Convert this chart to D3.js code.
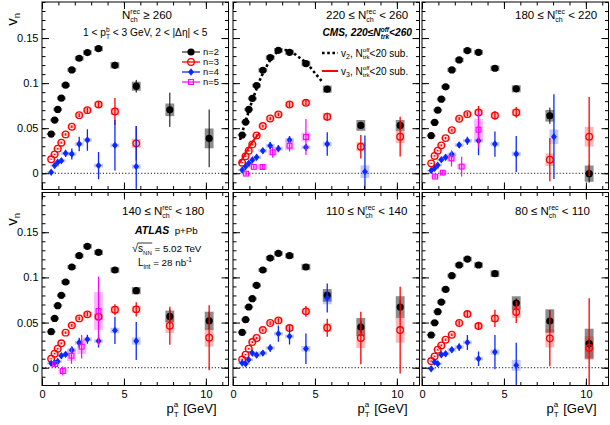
<!DOCTYPE html>
<html><head><meta charset="utf-8">
<script src="https://cdn.jsdelivr.net/npm/d3@7"></script>
<style>body{margin:0;background:#fff}svg{display:block}text{white-space:pre}</style>
</head><body><svg id="c" width="610" height="425"></svg>
<script>
// ---------- data ----------
const ptCenters  = [0.56,0.77,0.96,1.18,1.44,1.82,2.27,2.77,3.45,4.45,5.75,7.8,10.2];
const pt4Centers = [0.56,0.77,0.96,1.18,1.44,1.82,2.27,2.77,3.45,4.45,5.75,8.05,10.2];
const pt5Centers = [0.8,1.27,1.8,2.42,3.45,4.45];
const nLow  = [260,220,180,140,110,80];
const nHigh = [null,260,220,180,140,110];
const xTickLabels = [0,5,10];
const yTickLabels = [0,0.05,0.1,0.15];

const v2 = [
 [0.0435,0.059,0.0708,0.0833,0.0977,0.1147,0.1276,0.1339,0.1383,0.1198,0.0966,0.0704,0.0387],
 [0.0424,0.0568,0.0708,0.083,0.0973,0.1143,0.1283,0.1364,0.1342,0.1217,0.0933,0.0531,0.0531],
 [0.0417,0.0564,0.070,0.0822,0.0959,0.1147,0.1257,0.1361,0.1342,0.1165,0.0937,0.0638,-0.0004],
 [0.0399,0.0546,0.0687,0.0801,0.0949,0.1115,0.124,0.1344,0.1277,0.1082,0.0853,0.0568,0.052],
 [0.0391,0.0532,0.0672,0.0764,0.0912,0.1082,0.1214,0.1266,0.124,0.1115,0.0801,0.045,0.0672],
 [0.0362,0.0498,0.062,0.0727,0.0867,0.1019,0.1137,0.1203,0.1137,0.1041,0.0716,0.0517,0.0266]];
const v2Stat = [
 [0.0005,0.0005,0.0005,0.0005,0.0006,0.0008,0.001,0.0012,0.0015,0.004,0.007,0.019,0.032],
 [0.0005,0.0005,0.0005,0.0005,0.0006,0.0008,0.001,0.0012,0.0015,0.0025,0.003,0.004,0.005],
 [0.0005,0.0005,0.0005,0.0005,0.0006,0.0008,0.001,0.0012,0.0015,0.0025,0.003,0.009,0.01],
 [0.0005,0.0005,0.0005,0.0005,0.0006,0.0008,0.001,0.0012,0.0015,0.0025,0.003,0.008,0.01],
 [0.0005,0.0005,0.0005,0.0005,0.0006,0.0008,0.001,0.0012,0.0015,0.0025,0.004,0.007,0.008],
 [0.0005,0.0005,0.0005,0.0005,0.0006,0.0008,0.001,0.0012,0.0015,0.0025,0.005,0.012,0.006]];
const v2Sys = [
 [0.0012,0.0014,0.0016,0.0018,0.002,0.0022,0.0024,0.0025,0.0028,0.0035,0.005,0.007,0.011],
 [0.0012,0.0014,0.0016,0.0018,0.002,0.0022,0.0024,0.0025,0.0028,0.003,0.004,0.006,0.006],
 [0.0012,0.0014,0.0016,0.0018,0.002,0.0022,0.0024,0.0025,0.0028,0.003,0.004,0.0065,0.009],
 [0.0012,0.0014,0.0016,0.0018,0.002,0.0022,0.0024,0.0025,0.0028,0.003,0.004,0.0065,0.01],
 [0.0012,0.0014,0.0016,0.0018,0.002,0.0022,0.0024,0.0025,0.0028,0.0035,0.007,0.01,0.012],
 [0.0012,0.0014,0.0016,0.0018,0.002,0.0022,0.0024,0.0025,0.003,0.0037,0.0075,0.013,0.0166]];

const v3 = [
 [0.0155,0.021,0.0273,0.0339,0.0431,0.0516,0.0645,0.070,0.0763,0.0686,0.0332,null,null],
 [0.0118,0.019,0.025,0.032,0.042,0.0524,0.0608,0.0653,0.0763,0.0782,0.0627,0.0295,0.0406],
 [0.011,0.0192,0.0251,0.031,0.039,0.0479,0.0605,0.0656,0.0675,0.0642,0.0675,0.0151,0.0406],
 [0.01,0.0155,0.021,0.027,0.0388,0.0469,0.0546,0.0591,0.0565,0.0642,0.0646,0.0465,0.0332],
 [0.0092,0.0144,0.021,0.0284,0.0329,0.0417,0.0495,0.0524,0.0439,0.0624,0.0443,0.0329,0.0417],
 [0.0074,0.0126,0.0199,0.0247,0.031,0.0365,0.0495,0.0594,0.0461,0.0546,0.0616,0.0325,0.0218]];
const v3Stat = [
 [0.0006,0.0007,0.0008,0.001,0.0012,0.0015,0.002,0.003,0.004,0.015,0.019,0,0],
 [0.0006,0.0007,0.0008,0.001,0.0012,0.0015,0.002,0.002,0.003,0.003,0.0045,0.013,0.022],
 [0.0006,0.0007,0.0008,0.001,0.0012,0.0015,0.002,0.0025,0.007,0.005,0.006,0.024,0.044],
 [0.0006,0.0007,0.0008,0.001,0.0012,0.0015,0.002,0.0025,0.003,0.006,0.008,0.021,0.036],
 [0.0006,0.0007,0.0008,0.001,0.0012,0.0015,0.002,0.0025,0.003,0.006,0.01,0.029,0.048],
 [0.0006,0.0007,0.0008,0.001,0.0012,0.0015,0.003,0.004,0.004,0.0095,0.012,0.031,0.055]];
const v3Sys = [
 [0.001,0.0012,0.0013,0.0015,0.0017,0.002,0.0022,0.0024,0.003,0.004,0.005,0,0],
 [0.001,0.0012,0.0013,0.0015,0.0017,0.002,0.0022,0.0024,0.003,0.003,0.004,0.005,0.007],
 [0.001,0.0012,0.0013,0.0015,0.0017,0.002,0.0022,0.0024,0.003,0.003,0.004,0.007,0.011],
 [0.001,0.0012,0.0013,0.0015,0.0017,0.002,0.0022,0.0024,0.003,0.004,0.004,0.008,0.01],
 [0.001,0.0012,0.0013,0.0015,0.0017,0.002,0.0022,0.0024,0.003,0.003,0.005,0.011,0.014],
 [0.001,0.0012,0.0013,0.0015,0.0017,0.002,0.0022,0.0024,0.003,0.004,0.0065,0.01,0.013]];

const v4 = [
 [0.0011,0.0085,0.0122,0.014,0.0221,0.0214,0.0324,0.0369,0.0085,0.031,0.0074,null,null],
 [0.0037,0.0074,0.011,0.0147,0.0177,0.025,0.0306,0.0273,0.0369,0.0288,0.0324,0.0018,null],
 [0.003,0.0055,0.009,0.015,0.0177,0.021,0.0313,0.0361,0.0361,0.0324,0.0214,0.0406,null],
 [0.0048,0.0055,0.007,0.0133,0.0148,0.0196,0.0277,0.0314,0.0295,0.0413,0.0295,null,null],
 [0.0052,0.0044,0.0089,0.0162,0.014,0.0162,0.0218,0.0377,0.0347,0.021,0.0772,null,null],
 [-0.0011,0.0063,0.0044,0.0144,0.0155,0.0199,0.0229,0.028,0.01,0.0173,0.0026,null,null]];
const v4Stat = [
 [0.001,0.0015,0.002,0.003,0.004,0.006,0.008,0.012,0.015,0.028,0.045,0,0],
 [0.001,0.001,0.0015,0.002,0.003,0.003,0.004,0.004,0.0045,0.004,0.013,0.04,0],
 [0.001,0.001,0.0015,0.002,0.003,0.003,0.003,0.0045,0.016,0.014,0.02,0.047,0],
 [0.002,0.002,0.003,0.003,0.003,0.004,0.0055,0.005,0.007,0.015,0.021,0,0],
 [0.002,0.002,0.002,0.003,0.003,0.003,0.004,0.009,0.009,0.017,0.016,0,0],
 [0.002,0.002,0.002,0.003,0.003,0.003,0.004,0.0083,0.008,0.019,0.025,0,0]];
const v4Sys = [
 [0.001,0.0012,0.0014,0.0016,0.0018,0.002,0.002,0.002,0.002,0.002,0.0025,0,0],
 [0.001,0.0012,0.0014,0.0016,0.0018,0.002,0.002,0.002,0.002,0.002,0.0025,0.007,0],
 [0.001,0.0012,0.0014,0.0016,0.0018,0.002,0.002,0.002,0.002,0.0025,0.0025,0.008,0],
 [0.001,0.0012,0.0014,0.0016,0.0018,0.002,0.002,0.002,0.002,0.003,0.004,0,0],
 [0.001,0.0012,0.0014,0.0016,0.0018,0.002,0.002,0.002,0.002,0.003,0.007,0,0],
 [0.001,0.0012,0.0014,0.0016,0.0018,0.002,0.002,0.002,0.002,0.003,0.006,0,0]];

const v5 = [
 [null,null,null,null,null,null],
 [-0.0004,0.007,0.007,0.0232,0.0306,0.0402],
 [-0.0037,0.0007,0.0166,0.0074,0.0483,null],
 [0.004,-0.0037,0.0133,0.0233,0.0628,null],
 [null,null,null,null,null,null],
 [null,null,null,null,null,null]];
const v5Stat = [
 [0,0,0,0,0,0],[0.002,0.002,0.003,0.006,0.0065,0.02],[0.002,0.003,0.009,0.011,0.02,0],
 [0.002,0.005,0.009,0.013,0.038,0],[0,0,0,0,0,0],[0,0,0,0,0,0]];
const v5Sys = [
 [0,0,0,0,0,0],[0.002,0.002,0.003,0.003,0.005,0.005],[0.002,0.002,0.004,0.003,0.012,0],
 [0.002,0.003,0.006,0.008,0.021,0],[0,0,0,0,0,0],[0,0,0,0,0,0]];

// CMS reference curves (panel 220-260)
const cmsV2Pt = [0.43,0.79,1.26,1.82,2.55,2.96,3.48,4.0,4.51,5.03,5.45];
const cmsV2   = [0.0369,0.059,0.0848,0.1106,0.132,0.1364,0.1357,0.129,0.1217,0.1106,0.1014];
const cmsV3Pt = [0.37,0.68,0.99,1.3,1.61];
const cmsV3   = [0.011,0.0192,0.0295,0.0376,0.0442];

// ---------- layout ----------
const FONT = "'Liberation Sans', Arial, Helvetica, sans-serif";
const panelX0 = [42, 233, 422];
const panelW = 186.5;
const rowY = [[2,189.5],[192.5,385.5]];
const rowDom = [[-0.018,0.19],[-0.0197,0.194]];
const xDomain = [0, 11.38];
const headerBase = [19, 215];

const svg = d3.select('#c').attr('font-family', FONT);

function rich(parent, x, y, parts, anchor, rotate) {
  const g = parent.append('g').attr('font-family', FONT);
  let cx = 0; const pos = [];
  const mk = (txt, fs, dy, fw, fst) => {
    const t = g.append('text').attr('x', cx).attr('y', dy || 0).attr('font-size', fs)
      .attr('font-weight', fw || 'normal').attr('font-style', fst || 'normal')
      .attr('fill', '#000').text(txt);
    return t.node().getComputedTextLength();
  };
  parts.forEach(p => {
    if (p.t !== undefined) {
      const w = mk(p.t, p.fs, p.dy, p.fw, p.fst);
      pos.push({x0: cx, x1: cx + w}); cx += w;
    } else {
      let w = 0;
      if (p.sup) w = Math.max(w, mk(p.sup, p.fs, p.supDy, p.fw, p.fst));
      if (p.sub) w = Math.max(w, mk(p.sub, p.fs, p.subDy, p.fw, p.fst));
      pos.push({x0: cx, x1: cx + w}); cx += w + (p.pad || 0);
    }
  });
  const off = anchor === 'end' ? -cx : anchor === 'middle' ? -cx / 2 : 0;
  g.attr('transform', `translate(${x},${y}) rotate(${rotate || 0}) translate(${off},0)`);
  return {g, pos, width: cx};
}

const styles = [
  {color:'#000', box:'rgba(0,0,0,0.45)', marker:'dot', ew:1},
  {color:'#ff0000', box:'rgba(255,0,0,0.28)', marker:'ocircle', ew:1.3},
  {color:'#0a28ff', box:'rgba(10,40,255,0.25)', marker:'diamond', ew:1.3},
  {color:'#ff00ff', box:'rgba(255,0,255,0.28)', marker:'osquare', ew:1.2}
];

function drawMarker(g, cx, cy, st) {
  if (st.marker === 'dot') g.append('circle').attr('cx',cx).attr('cy',cy).attr('r',3.6).attr('fill',st.color);
  else if (st.marker === 'ocircle') g.append('circle').attr('cx',cx).attr('cy',cy).attr('r',3.3).attr('fill','none').attr('stroke',st.color).attr('stroke-width',1.3);
  else if (st.marker === 'diamond') g.append('path').attr('d',`M${cx},${cy-3.7}L${cx+2.9},${cy}L${cx},${cy+3.7}L${cx-2.9},${cy}Z`).attr('fill',st.color);
  else g.append('rect').attr('x',cx-2.4).attr('y',cy-2.4).attr('width',4.8).attr('height',4.8).attr('fill','none').attr('stroke',st.color).attr('stroke-width',1.1);
}

const tickFmt = d => d === 0 ? '0' : String(d);
const minorY = d3.range(-1, 20).map(k => k / 100);
const minorX = d3.range(0, 12);

for (let i = 0; i < 6; i++) {
  const col = i % 3, row = Math.floor(i / 3);
  const x0 = panelX0[col], [yt, yb] = rowY[row];
  const x = d3.scaleLinear().domain(xDomain).range([x0, x0 + panelW]);
  const y = d3.scaleLinear().domain(rowDom[row]).range([yb, yt]);
  const g = svg.append('g');
  const cid = 'clip' + i;
  svg.append('clipPath').attr('id', cid).append('rect')
    .attr('x', x0).attr('y', yt).attr('width', panelW).attr('height', yb - yt);
  const dg = g.append('g').attr('clip-path', `url(#${cid})`);

  dg.append('line').attr('x1', x(0)).attr('x2', x(xDomain[1])).attr('y1', y(0)).attr('y2', y(0))
    .attr('stroke', '#000').attr('stroke-width', 0.9).attr('stroke-dasharray', '1.2,2');

  const series = [
    {xs: ptCenters,  ys: v2[i], st: v2Stat[i], sy: v2Sys[i], s: styles[0]},
    {xs: ptCenters,  ys: v3[i], st: v3Stat[i], sy: v3Sys[i], s: styles[1]},
    {xs: pt4Centers, ys: v4[i], st: v4Stat[i], sy: v4Sys[i], s: styles[2]},
    {xs: pt5Centers, ys: v5[i], st: v5Stat[i], sy: v5Sys[i], s: styles[3]}
  ];
  // systematic boxes
  series.forEach(se => se.ys.forEach((v, k) => {
    if (v === null) return;
    const hw = 0.27;
    dg.append('rect').attr('x', x(se.xs[k] - hw)).attr('width', x(se.xs[k] + hw) - x(se.xs[k] - hw))
      .attr('y', y(v + se.sy[k])).attr('height', Math.max(0, y(v - se.sy[k]) - y(v + se.sy[k])))
      .attr('fill', se.s.box);
  }));
  // stat errors + markers
  series.forEach(se => {
    se.ys.forEach((v, k) => {
      if (v === null) return;
      dg.append('line').attr('x1', x(se.xs[k])).attr('x2', x(se.xs[k]))
        .attr('y1', y(v - se.st[k])).attr('y2', y(v + se.st[k]))
        .attr('stroke', se.s.color).attr('stroke-width', se.s.ew);
    });
    se.ys.forEach((v, k) => { if (v !== null) drawMarker(dg, x(se.xs[k]), y(v), se.s); });
  });

  if (i === 1) {
    const l2 = d3.line().x(d => x(d[0])).y(d => y(d[1])).curve(d3.curveCatmullRom);
    dg.append('path').attr('d', l2(cmsV2Pt.map((p, k) => [p, cmsV2[k]])))
      .attr('fill', 'none').attr('stroke', '#000').attr('stroke-width', 2.6).attr('stroke-dasharray', '2.6,2.6');
    dg.append('path').attr('d', l2(cmsV3Pt.map((p, k) => [p, cmsV3[k]])))
      .attr('fill', 'none').attr('stroke', '#ff0000').attr('stroke-width', 2);
  }

  // axes
  const ax = (gen, tr, vals, size, fmt) => {
    const a = g.append('g').attr('transform', tr)
      .call(gen.tickValues(vals).tickSize(size).tickPadding(3.5).tickFormat(fmt));
    a.select('.domain').remove();
    a.selectAll('line').attr('stroke', '#000').attr('stroke-width', 1);
    a.attr('font-family', FONT).attr('font-size', 11);
    a.selectAll('text').attr('fill', '#000');
    return a;
  };
  const mY = minorY.filter(v => v >= rowDom[row][0] && v <= rowDom[row][1]);
  ax(d3.axisLeft(y), `translate(${x0},0)`, yTickLabels, -7, col === 0 ? tickFmt : () => '');
  ax(d3.axisLeft(y), `translate(${x0},0)`, mY, -3.5, () => '');
  ax(d3.axisRight(y), `translate(${x0 + panelW},0)`, yTickLabels, -7, () => '');
  ax(d3.axisRight(y), `translate(${x0 + panelW},0)`, mY, -3.5, () => '');
  const bx = ax(d3.axisBottom(x), `translate(0,${yb})`, xTickLabels, -7, row === 1 ? tickFmt : () => '');
  bx.selectAll('text').attr('y', 4.5);
  ax(d3.axisBottom(x), `translate(0,${yb})`, minorX, -3.5, () => '');
  ax(d3.axisTop(x), `translate(0,${yt})`, xTickLabels, -7, () => '');
  ax(d3.axisTop(x), `translate(0,${yt})`, minorX, -3.5, () => '');

  g.append('rect').attr('x', x0).attr('y', yt).attr('width', panelW).attr('height', yb - yt)
    .attr('fill', 'none').attr('stroke', '#000').attr('stroke-width', 1);

  // header
  const hx = i === 0 || i === 3 ? x0 + 80 : x0 + 93;
  const nParts = [];
  if (nHigh[i] !== null) nParts.push({t: nLow[i] + ' ≤ ', fs: 11.5});
  nParts.push({t: 'N', fs: 11.5});
  nParts.push({sup: 'rec', sub: 'ch', fs: 7, supDy: -5.5, subDy: 2.5, pad: 0});
  nParts.push({t: nHigh[i] !== null ? ' < ' + nHigh[i] : ' ≥ ' + nLow[i], fs: 11.5});
  rich(svg, hx, headerBase[row], nParts, 'start');

  if (row === 1) {
    rich(svg, x0 + panelW - 12, 413, [
      {t: 'p', fs: 13}, {sup: 'a', sub: 'T', fs: 8, supDy: -6.5, subDy: 3.5, pad: 1}, {t: ' [GeV]', fs: 13}
    ], 'end');
  }
  if (col === 0) {
    rich(svg, 17, row === 0 ? 13 : 213, [{t: 'v', fs: 15}, {t: 'n', fs: 9.5, dy: 3}], 'end', -90);
  }
}

// panel 0 extra text + legend
rich(svg, 83, 36, [
  {t: '1 < p', fs: 10.2}, {sup: 'b', sub: 'T', fs: 6.5, supDy: -4.5, subDy: 2.5},
  {t: ' < 3 GeV, 2 < |Δη| < 5', fs: 10.2}], 'start');
const legNames = ['n=2', 'n=3', 'n=4', 'n=5'];
legNames.forEach((nm, k) => {
  const ly = 52 + k * 10;
  svg.append('line').attr('x1', 182).attr('x2', 200).attr('y1', ly).attr('y2', ly)
    .attr('stroke', styles[k].color).attr('stroke-width', styles[k].ew);
  drawMarker(svg, 191, ly, styles[k]);
  rich(svg, 203, ly + 3.4, [{t: nm, fs: 9.4}], 'start');
});

// panel 1 CMS text + legend
rich(svg, 412, 36, [
  {t: 'CMS, 220≤N', fs: 10.2, fw: 'bold', fst: 'italic'},
  {sup: 'off', sub: 'trk', fs: 6.5, supDy: -4.5, subDy: 2.5, fw: 'bold', fst: 'italic'},
  {t: '<260', fs: 10.2, fw: 'bold', fst: 'italic'}], 'end');
svg.append('line').attr('x1', 322).attr('x2', 338).attr('y1', 53).attr('y2', 53)
  .attr('stroke', '#000').attr('stroke-width', 2.6).attr('stroke-dasharray', '2.6,2.6');
svg.append('line').attr('x1', 322).attr('x2', 338).attr('y1', 71).attr('y2', 71)
  .attr('stroke', '#ff0000').attr('stroke-width', 2);
[['2', 56.5], ['3', 74.5]].forEach(([n, by]) => {
  rich(svg, 341, by, [
    {t: 'v', fs: 10}, {t: n, fs: 7, dy: 2.5}, {t: ', N', fs: 10},
    {sup: 'off', sub: 'trk', fs: 6.2, supDy: -4.5, subDy: 2.5}, {t: '<20 sub.', fs: 10}], 'start');
});

// panel 3 ATLAS text
rich(svg, 135, 234, [{t: 'ATLAS', fs: 10.5, fw: 'bold', fst: 'italic'}, {t: '  p+Pb', fs: 9.8}], 'start');
const sq = rich(svg, 132, 252, [
  {t: '√', fs: 11}, {t: 's', fs: 10}, {t: 'NN', fs: 6, dy: 2.5}, {t: ' = 5.02 TeV', fs: 9.8}], 'start');
sq.g.append('line').attr('x1', sq.pos[0].x1 - 0.5).attr('x2', sq.pos[2].x1 + 0.5)
  .attr('y1', -9).attr('y2', -9).attr('stroke', '#000').attr('stroke-width', 0.8);
rich(svg, 138, 266, [{t: 'L', fs: 10}, {t: 'int', fs: 6.5, dy: 2.5}, {t: ' = 28 nb', fs: 9.8}, {t: '-1', fs: 6.5, dy: -4.5}], 'start');
</script></body></html>
